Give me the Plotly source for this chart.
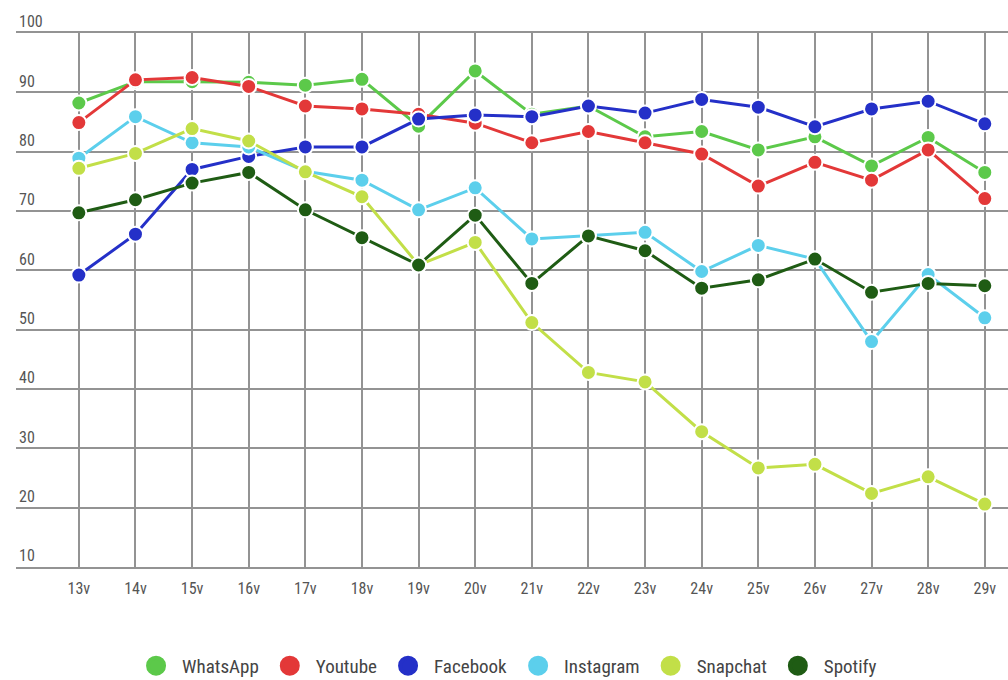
import plotly.graph_objects as go

categories = ["13v", "14v", "15v", "16v", "17v", "18v", "19v", "20v", "21v",
              "22v", "23v", "24v", "25v", "26v", "27v", "28v", "29v"]

whatsapp = [88.2, 91.8, 91.8, 91.7, 91.2, 92.2, 84.3, 93.6, 86.3, 87.7, 82.5, 83.4, 80.3, 82.5, 77.6, 82.4, 76.5]
youtube = [84.9, 92.1, 92.5, 91.0, 87.7, 87.2, 86.3, 84.8, 81.5, 83.4, 81.5, 79.6, 74.2, 78.2, 75.2, 80.3, 72.1]
facebook = [59.2, 66.1, 77.0, 79.2, 80.8, 80.8, 85.5, 86.2, 85.9, 87.7, 86.5, 88.8, 87.5, 84.2, 87.2, 88.5, 84.7]
instagram = [78.9, 85.9, 81.5, 80.8, 76.7, 75.2, 70.2, 73.9, 65.3, 65.8, 66.4, 59.8, 64.2, 61.9, 48.0, 59.3, 52.0]
snapchat = [77.2, 79.7, 83.9, 81.8, 76.6, 72.4, 60.9, 64.7, 51.2, 42.8, 41.2, 32.8, 26.7, 27.3, 22.4, 25.2, 20.6]
spotify = [69.7, 71.9, 74.7, 76.5, 70.2, 65.5, 60.9, 69.3, 57.8, 65.8, 63.3, 57.0, 58.4, 61.9, 56.3, 57.8, 57.4]

series_names = ["WhatsApp", "Youtube", "Facebook", "Instagram", "Snapchat", "Spotify"]
series_values = [whatsapp, youtube, facebook, instagram, snapchat, spotify]
colors = ["#5cc94a", "#e33838", "#2430c8", "#5ccfec", "#c2df48", "#1f5c14"]

y_ticks = [10, 20, 30, 40, 50, 60, 70, 80, 90, 100]

FONT = "Roboto Condensed, Liberation Sans Narrow, Roboto, sans-serif"
GRID = "#939393"

fig = go.Figure()
for name, vals, col in zip(series_names, series_values, colors):
    fig.add_trace(go.Scatter(
        x=categories, y=vals, mode="lines+markers", name=name,
        line=dict(color=col, width=3),
        marker=dict(color=col, size=15, line=dict(color="white", width=2)),
        showlegend=False, hoverinfo="x+y+name",
    ))
for name, col in zip(series_names, colors):
    fig.add_trace(go.Scatter(
        x=[None], y=[None], mode="markers", name=name,
        marker=dict(color=col, size=16, line=dict(color=col, width=4)),
        showlegend=True,
    ))

fig.update_layout(
    width=1008, height=680,
    margin=dict(l=16, r=0, t=33, b=113, autoexpand=False),
    paper_bgcolor="white", plot_bgcolor="white",
    font=dict(family=FONT, color="#555555", size=16),
    legend=dict(orientation="h", x=0.494, xanchor="center", y=-0.185, yanchor="middle",
                font=dict(size=19, color="#444444", family=FONT),
                itemsizing="trace", itemwidth=42, tracegroupgap=0),
    showlegend=True,
)
fig.update_xaxes(
    type="category", range=[-1.11, 16.41],
    showgrid=True, gridcolor=GRID, gridwidth=1.5,
    zeroline=False, showline=True, mirror=True, linecolor=GRID, linewidth=1.5,
    ticks="", ticklabelstandoff=6,
    tickfont=dict(size=16, color="#555555"),
    fixedrange=True, automargin=False,
)
fig.update_yaxes(
    range=[10, 100], tickvals=y_ticks,
    showgrid=True, gridcolor=GRID, gridwidth=1.5,
    zeroline=False, showline=False, ticks="",
    ticklabelposition="inside top", ticklabeloverflow="allow",
    tickfont=dict(size=16, color="#555555"),
    fixedrange=True, automargin=False,
)
fig.write_html("out.html")
